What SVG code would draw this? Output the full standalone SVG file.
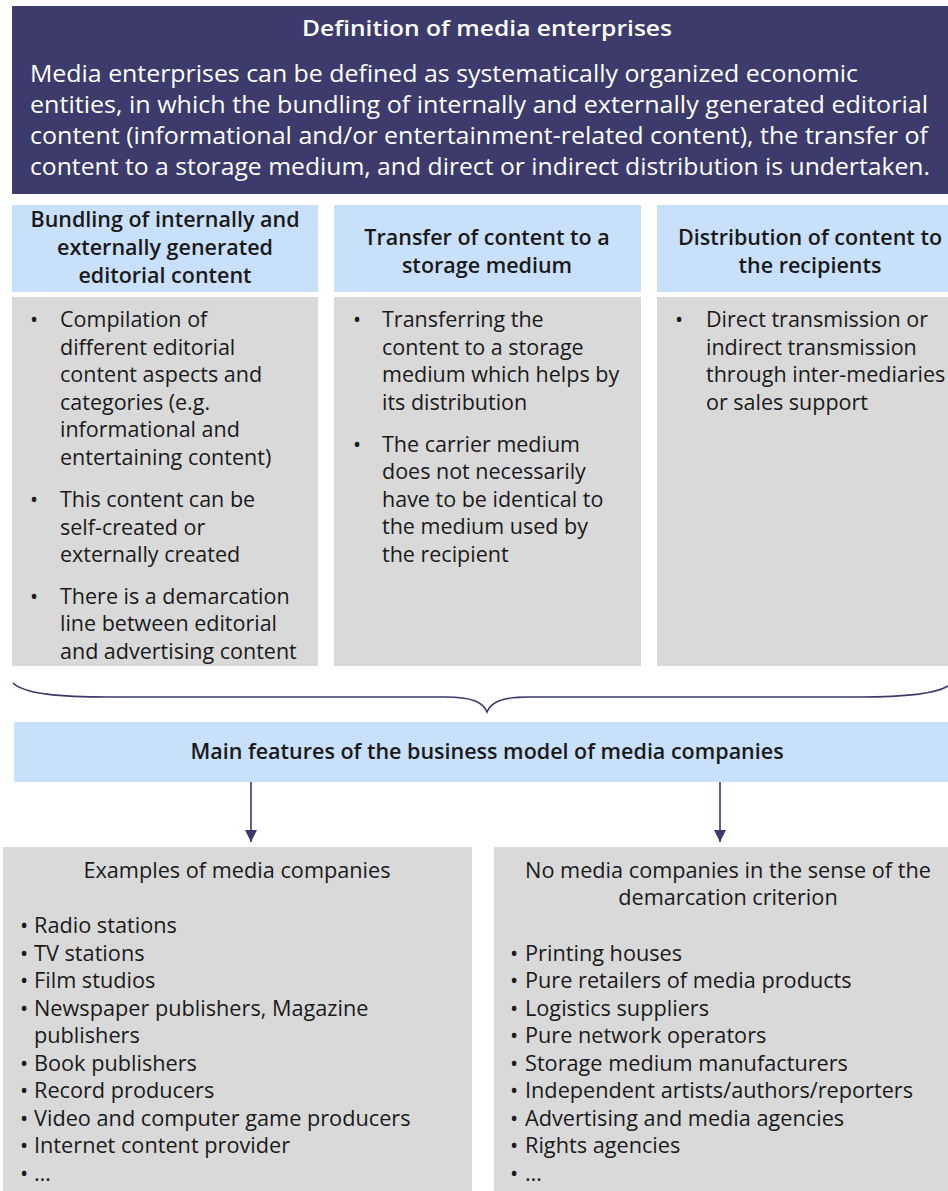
<svg xmlns="http://www.w3.org/2000/svg" width="948" height="1191" viewBox="0 0 948 1191">
<defs>
<style>
text{font-family:"Open Sans","Noto Sans","Liberation Sans",sans-serif;fill:#1a1a1a}
.white{fill:#ffffff}
.ttl{font-size:21px;font-weight:600}
.hdr{font-size:24.5px}
.ch{font-size:21.5px;font-weight:600;text-anchor:middle}
.bl{font-size:21.5px}
.bt{font-size:21.7px}
.mid{text-anchor:middle}
.dark{fill:#3c3b6b}
.blue{fill:#c9e0fb}
.gray{fill:#d9d9d9}
.conn{stroke:#3b3b6b;stroke-width:1.6;fill:none}
</style>
<marker id="ah" markerUnits="userSpaceOnUse" markerWidth="12" markerHeight="12" viewBox="0 0 12 12" refX="12" refY="6" orient="auto">
<path d="M0,0 L12,6 L0,12 Z" fill="#3b3b6b"/>
</marker>
</defs>

<g id="definition">
<rect class="dark" x="12" y="6" width="936" height="188"/>
<text class="white ttl mid" x="487" y="36" textLength="370" lengthAdjust="spacingAndGlyphs">Definition of media enterprises</text>
<text class="white hdr" x="30" y="82" textLength="828" lengthAdjust="spacingAndGlyphs">Media enterprises  can be defined as systematically organized economic</text>
<text class="white hdr" x="30" y="113" textLength="898" lengthAdjust="spacingAndGlyphs">entities, in which the bundling of internally and externally generated editorial</text>
<text class="white hdr" x="30" y="144" textLength="898" lengthAdjust="spacingAndGlyphs">content (informational and/or entertainment-related content), the transfer of</text>
<text class="white hdr" x="30" y="175" textLength="900" lengthAdjust="spacingAndGlyphs">content to a storage medium, and direct or indirect distribution is undertaken.</text>
</g>

<g id="col-bundling">
<rect class="blue" x="12" y="205" width="306" height="87"/>
<text class="ch" x="165" y="227">Bundling of internally and</text>
<text class="ch" x="165" y="255">externally generated</text>
<text class="ch" x="165" y="283">editorial content</text>
<rect class="gray" x="12" y="297" width="306" height="369"/>
<text class="bl" x="30" y="327">•</text>
<text class="bl" x="60" y="327">Compilation of</text>
<text class="bl" x="60" y="355">different editorial</text>
<text class="bl" x="60" y="382">content aspects and</text>
<text class="bl" x="60" y="410">categories  (e.g.</text>
<text class="bl" x="60" y="437">informational and</text>
<text class="bl" x="60" y="465">entertaining  content)</text>
<text class="bl" x="30" y="507">•</text>
<text class="bl" x="60" y="507">This content can be</text>
<text class="bl" x="60" y="535">self-created or</text>
<text class="bl" x="60" y="562">externally created</text>
<text class="bl" x="30" y="604">•</text>
<text class="bl" x="60" y="604">There is a demarcation</text>
<text class="bl" x="60" y="631">line between editorial</text>
<text class="bl" x="60" y="659">and advertising content</text>
</g>

<g id="col-transfer">
<rect class="blue" x="334" y="205" width="307" height="87"/>
<text class="ch" x="487" y="245">Transfer of content to a</text>
<text class="ch" x="487" y="273">storage medium</text>
<rect class="gray" x="334" y="297" width="307" height="369"/>
<text class="bl" x="353" y="327">•</text>
<text class="bl" x="382" y="327">Transferring the</text>
<text class="bl" x="382" y="355">content to a storage</text>
<text class="bl" x="382" y="382">medium which helps by</text>
<text class="bl" x="382" y="410">its distribution</text>
<text class="bl" x="353" y="452">•</text>
<text class="bl" x="382" y="452">The carrier medium</text>
<text class="bl" x="382" y="479">does not necessarily</text>
<text class="bl" x="382" y="507">have to be identical to</text>
<text class="bl" x="382" y="534">the medium used by</text>
<text class="bl" x="382" y="562">the recipient</text>
</g>

<g id="col-distribution">
<rect class="blue" x="657" y="205" width="291" height="87"/>
<text class="ch" x="810" y="245">Distribution of content to</text>
<text class="ch" x="810" y="273">the recipients</text>
<rect class="gray" x="657" y="297" width="291" height="369"/>
<text class="bl" x="675" y="327">•</text>
<text class="bl" x="706" y="327">Direct transmission or</text>
<text class="bl" x="706" y="355">indirect transmission</text>
<text class="bl" x="706" y="382">through inter-mediaries</text>
<text class="bl" x="706" y="410">or sales support</text>
</g>

<g id="main-features">
<rect class="blue" x="14" y="722" width="934" height="60"/>
<text class="ch" x="487" y="759">Main features of the business model of media companies</text>
</g>

<g id="examples">
<rect class="gray" x="3" y="847" width="469" height="344"/>
<text class="bt mid" x="237" y="878">Examples of media companies</text>
<text class="bt" x="20" y="933">•</text><text class="bt" x="34" y="933">Radio stations</text>
<text class="bt" x="20" y="961">•</text><text class="bt" x="34" y="961">TV stations</text>
<text class="bt" x="20" y="988">•</text><text class="bt" x="34" y="988">Film studios</text>
<text class="bt" x="20" y="1016">•</text><text class="bt" x="34" y="1016">Newspaper publishers, Magazine</text>
<text class="bt" x="34" y="1043">publishers</text>
<text class="bt" x="20" y="1071">•</text><text class="bt" x="34" y="1071">Book publishers</text>
<text class="bt" x="20" y="1098">•</text><text class="bt" x="34" y="1098">Record producers</text>
<text class="bt" x="20" y="1126">•</text><text class="bt" x="34" y="1126">Video and computer game producers</text>
<text class="bt" x="20" y="1153">•</text><text class="bt" x="34" y="1153">Internet  content provider</text>
<text class="bt" x="20" y="1181">•</text><text class="bt" x="34" y="1181">…</text>
</g>

<g id="non-media">
<rect class="gray" x="494" y="847" width="454" height="344"/>
<text class="bt mid" x="728" y="878">No media companies in the sense of the</text>
<text class="bt mid" x="728" y="905">demarcation criterion</text>
<text class="bt" x="510" y="961">•</text><text class="bt" x="525" y="961">Printing houses</text>
<text class="bt" x="510" y="988">•</text><text class="bt" x="525" y="988">Pure retailers of media products</text>
<text class="bt" x="510" y="1016">•</text><text class="bt" x="525" y="1016">Logistics suppliers</text>
<text class="bt" x="510" y="1043">•</text><text class="bt" x="525" y="1043">Pure network operators</text>
<text class="bt" x="510" y="1071">•</text><text class="bt" x="525" y="1071">Storage medium  manufacturers</text>
<text class="bt" x="510" y="1098">•</text><text class="bt" x="525" y="1098">Independent  artists/authors/reporters</text>
<text class="bt" x="510" y="1126">•</text><text class="bt" x="525" y="1126">Advertising and media agencies</text>
<text class="bt" x="510" y="1153">•</text><text class="bt" x="525" y="1153">Rights agencies</text>
<text class="bt" x="510" y="1181">•</text><text class="bt" x="525" y="1181">…</text>
</g>

<g id="connectors">
<path class="conn" d="M13,683 C24,694 60,697 110,697 L445,697 C472,697 483,702 487,712 C491,702 502,697 529,697 L860,697 C905,697 935,694 948,686"/>
<line class="conn" x1="251" y1="782" x2="251" y2="842" marker-end="url(#ah)"/>
<line class="conn" x1="720" y1="782" x2="720" y2="842" marker-end="url(#ah)"/>
</g>
</svg>
